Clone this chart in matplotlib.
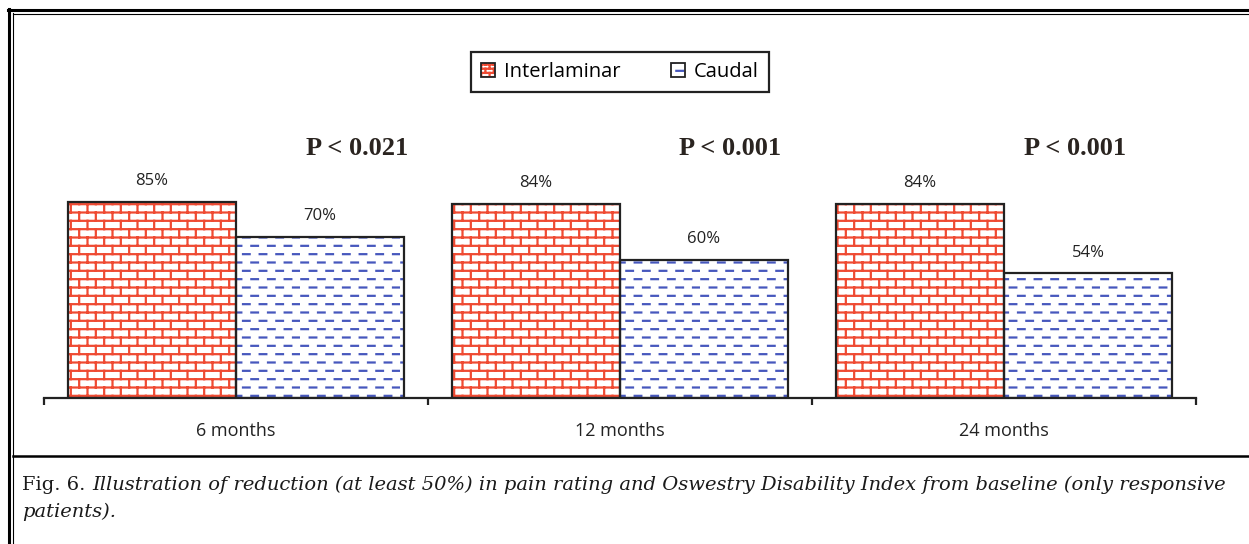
import warnings
import numpy as np
import matplotlib
matplotlib.use('Agg')
import matplotlib.pyplot as plt
from matplotlib import hatch as mhatch
from matplotlib.path import Path
from matplotlib.patches import Patch
from matplotlib.lines import Line2D
from matplotlib.legend_handler import HandlerTuple

warnings.filterwarnings('ignore')

# data
periods = ['6 months', '12 months', '24 months']
interlaminar = [85, 84, 84]
caudal = [70, 60, 54]
p_values = ['P < 0.021', 'P < 0.001', 'P < 0.001']
p_xpos = [0.315, 1.286, 2.185]

RED = '#ef4a32'
BLUE = '#4657bd'


# brick and dash hatches are not in matplotlib, so add two small ones
class BrickHatch(mhatch.HatchPatternBase):
    def __init__(self, hatch, density):
        n = hatch.count('b') * density * 2
        m = hatch.count('b') * density
        segs = []
        for i in range(n):
            y = (i + 0.5) / n
            segs.append([(0, y), (1, y)])
            for j in range(m):
                x = (j + 0.25 + 0.5 * (i % 2)) / m
                if i < n - 1:
                    segs.append([(x, y), (x, y + 1 / n)])
                else:
                    segs.append([(x, y), (x, 1)])
                    segs.append([(x, 0), (x, 0.5 / n)])
        self.segs = np.array(segs, dtype=float).reshape(-1, 2)
        self.num_vertices = len(self.segs)

    def set_vertices_and_codes(self, vertices, codes):
        vertices[:] = self.segs
        codes[0::2] = Path.MOVETO
        codes[1::2] = Path.LINETO


class DashHatch(mhatch.HatchPatternBase):
    def __init__(self, hatch, density):
        n = hatch.count('d') * density * 2
        m = hatch.count('d') * density
        segs = []
        for i in range(n):
            y = (i + 0.5) / n
            for j in range(m):
                x0 = (j + 0.08 + 0.5 * (i % 2)) / m
                segs.append([(x0, y), (x0 + 0.4 / m, y)])
        self.segs = np.array(segs, dtype=float).reshape(-1, 2)
        self.num_vertices = len(self.segs)

    def set_vertices_and_codes(self, vertices, codes):
        vertices[:] = self.segs
        codes[0::2] = Path.MOVETO
        codes[1::2] = Path.LINETO


mhatch._hatch_types.extend([BrickHatch, DashHatch])

plt.rcParams['hatch.linewidth'] = 1.6
sans = ['Open Sans', 'DejaVu Sans']
serif = ['Liberation Serif', 'DejaVu Serif']
cap_serif = ['DejaVu Serif']

W, H = 1249, 544
fig = plt.figure(figsize=(W / 100, H / 100), dpi=100)
ax = fig.add_axes([44 / W, (H - 398) / H, 1152 / W, 230.6 / H])

x = np.arange(len(periods))
w = 0.4375
ax.bar(x - w / 2, interlaminar, w, color='white', edgecolor=RED,
       hatch='b', linewidth=0)
ax.bar(x + w / 2, caudal, w, color='white', edgecolor=BLUE,
       hatch='d', linewidth=0)
ax.bar(x - w / 2, interlaminar, w, fill=False, edgecolor='#222222',
       linewidth=1.6)
ax.bar(x + w / 2, caudal, w, fill=False, edgecolor='#222222',
       linewidth=1.6)

for xi, v in zip(x - w / 2, interlaminar):
    ax.annotate(f'{v}%', (xi, v), xytext=(0, 15), textcoords='offset points',
                ha='center', va='center', fontsize=12, family=sans,
                color='#222222')
for xi, v in zip(x + w / 2, caudal):
    ax.annotate(f'{v}%', (xi, v), xytext=(0, 15), textcoords='offset points',
                ha='center', va='center', fontsize=12, family=sans,
                color='#222222')

for px, label in zip(p_xpos, p_values):
    ax.text(px, 108, label, ha='center', va='center', fontsize=19,
            family=serif, fontweight='bold', color='#2a2420')

ax.set_xlim(-0.5, 2.5)
ax.set_ylim(0, 100)
for s in ['left', 'right', 'top']:
    ax.spines[s].set_visible(False)
ax.spines['bottom'].set_linewidth(1.6)
ax.spines['bottom'].set_color('#222222')
ax.set_yticks([])
ax.set_xticks(x)
ax.set_xticklabels(periods, fontsize=13, family=sans, color='#222222')
ax.set_xticks(np.arange(len(periods) + 1) - 0.5, minor=True)
ax.tick_params(axis='x', which='major', length=0, pad=17)
ax.tick_params(axis='x', which='minor', length=5, width=1.6,
               color='#222222')

# legend
outline = Patch(fill=False, edgecolor='#222222', linewidth=1.3)
h1 = (Patch(facecolor='white', edgecolor=RED, hatch='bb', linewidth=0), outline)
h2 = (Patch(facecolor='white', edgecolor=BLUE, hatch='d', linewidth=0), outline)
leg = fig.legend([h1, h2], ['Interlaminar', 'Caudal'],
                 handler_map={tuple: HandlerTuple(ndivide=1)},
                 loc='center', bbox_to_anchor=(620 / W, 1 - 72 / H),
                 ncol=2, frameon=True, fancybox=False, framealpha=1,
                 edgecolor='#222222', prop={'family': sans, 'size': 14.5},
                 handlelength=0.7, handleheight=0.7, handletextpad=0.45,
                 columnspacing=2.5, borderpad=0.5)
leg.get_frame().set_linewidth(1.6)

# frame lines around the figure and caption
def hline(y, lw, x0=8 / W):
    fig.add_artist(Line2D([x0, 1], [1 - y / H] * 2, color='black', lw=lw,
                          transform=fig.transFigure))

def vline(xp, lw, y0):
    fig.add_artist(Line2D([xp / W] * 2, [0, 1 - y0 / H], color='black',
                          lw=lw, transform=fig.transFigure))

hline(10.3, 2.2)
hline(13.8, 0.8, 12.8 / W)
vline(8.5, 2.2, 9)
vline(12.8, 0.8, 13.4)
hline(456, 1.8, 12.8 / W)

# caption
t1 = fig.text(22 / W, 1 - 485 / H, 'Fig. 6.', family=cap_serif, fontsize=14,
              va='center', ha='left', color='#1a1a1a')
ax.annotate('Illustration of reduction (at least 50%) in pain rating and '
            'Oswestry Disability Index from baseline (only responsive',
            xy=(1, 0), xycoords=t1, xytext=(5, 0), textcoords='offset points',
            ha='left', va='bottom', family=cap_serif, fontsize=14,
            style='italic', color='#1a1a1a', annotation_clip=False)
fig.text(22 / W, 1 - 512 / H, 'patients).', family=cap_serif, fontsize=14,
         style='italic', va='center', ha='left', color='#1a1a1a')

fig.savefig('out.png', dpi=100)
